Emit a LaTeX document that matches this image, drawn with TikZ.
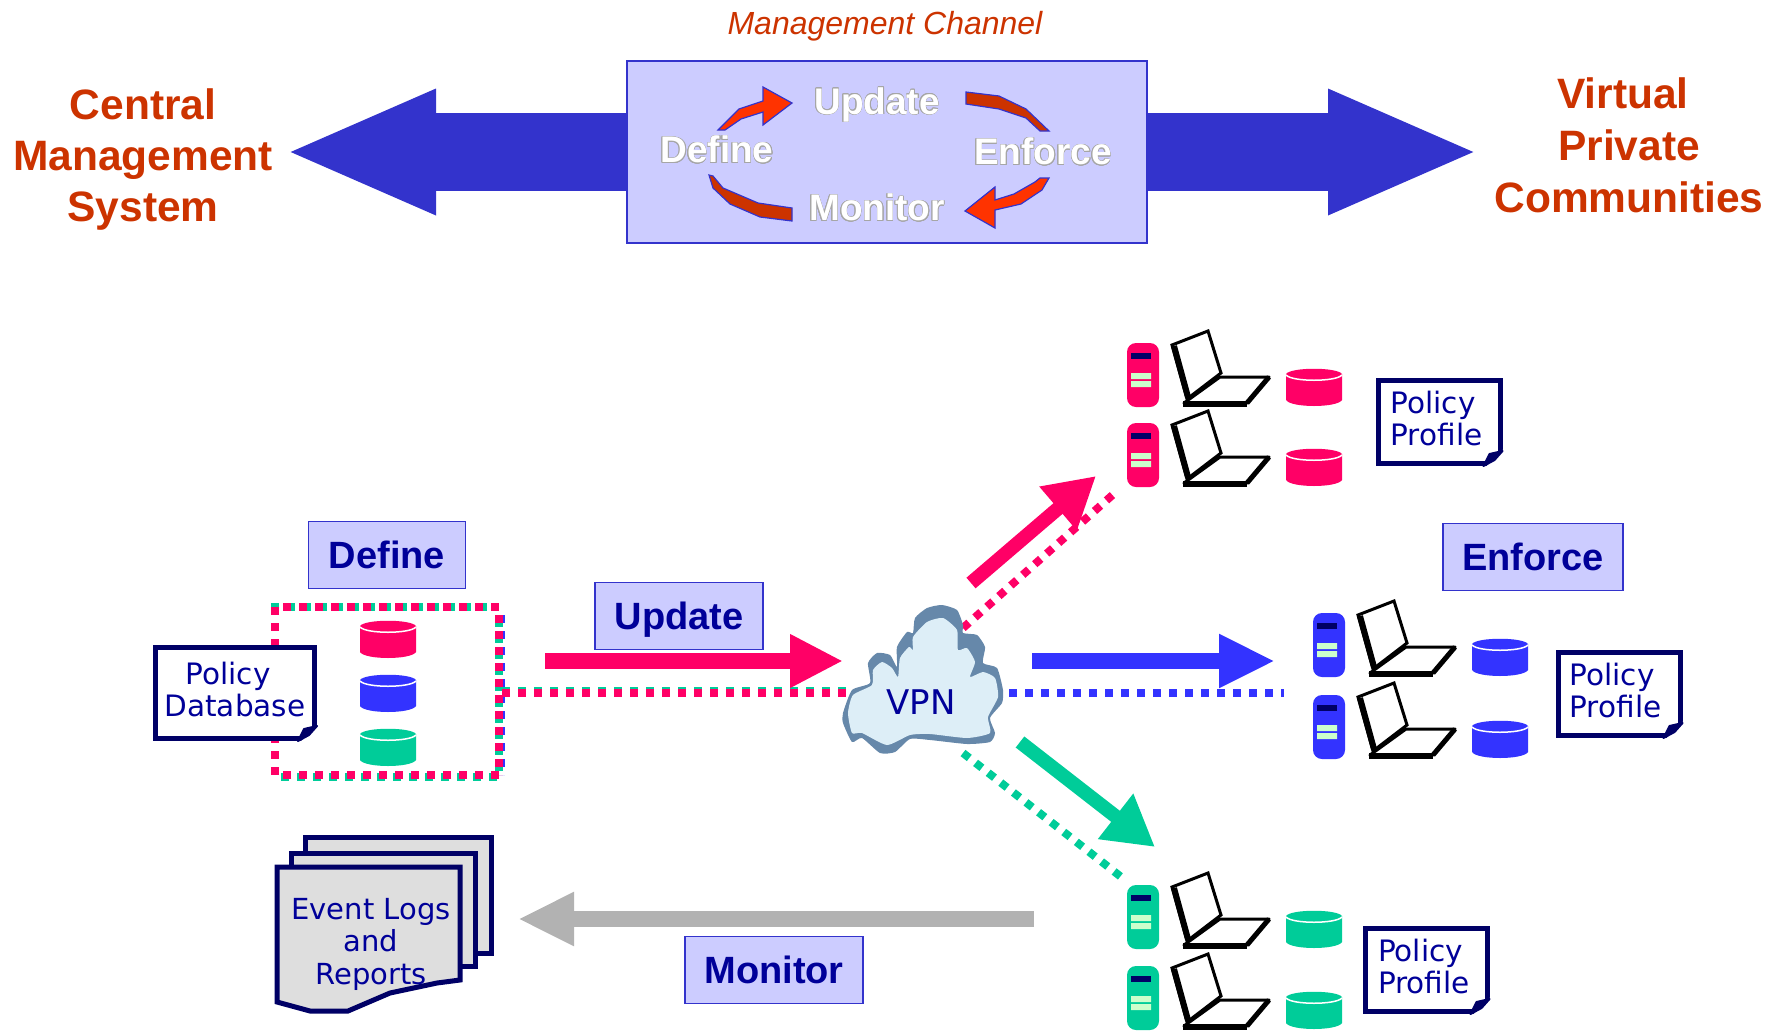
\documentclass[tikz,border=0pt]{standalone}
\usepackage{fontspec}
\usepackage[copies]{contour}
\setmainfont{Liberation Sans}
\newfontfamily\docfont{DejaVu Sans}
\usetikzlibrary{arrows.meta}
\contourlength{0.6pt}
\definecolor{vpnpink}{HTML}{FF0066}
\definecolor{vpnblue}{HTML}{3333FF}
\definecolor{vpngreen}{HTML}{00CC99}
\definecolor{chanblue}{HTML}{3333CC}
\definecolor{chanfill}{HTML}{CCCCFF}
\definecolor{navytext}{HTML}{000099}
\definecolor{docnavy}{HTML}{000066}
\definecolor{rust}{HTML}{CC3300}
\definecolor{flame}{HTML}{FF3300}
\tikzset{
  headline/.style={font=\bfseries\fontsize{42.5}{51}\selectfont, text=rust},
  cycleword/.style={font=\bfseries\fontsize{37}{40}\selectfont},
  labelbox/.style={draw=chanblue, fill=chanfill, line width=1.5pt, text=navytext, minimum height=67pt, text height=27.5pt, text depth=0pt, font=\bfseries\fontsize{38}{44}\selectfont},
  policydoc/.style={draw=docnavy, fill=white, line width=5pt, text=navytext, minimum width=122pt, minimum height=83pt, inner sep=0pt, text depth=7pt, font=\docfont\fontsize{29.5}{32}\selectfont},
  sheet/.style={draw=docnavy, fill=black!13, line width=5pt},
  dotline/.style={line width=8pt, dash pattern=on 8pt off 8pt},
  bigarrow/.style={chanblue, line width=78pt, -{Triangle[length=152pt,width=114pt]}},
  pics/cyl/.style={code={
    \fill[#1] (0,6) .. controls (5,-1) and (51,-1) .. (56,6) -- (56,32) .. controls (51,40) and (5,40) .. (0,32) -- cycle;
    \draw[white, line width=1.5pt] (0,7) .. controls (6,14) and (50,14) .. (56,7);
  }},
  pics/station/.style={code={
    \fill[#1, rounded corners=9pt] (0,0) rectangle (32,64);
    \fill[docnavy] (4,10) rectangle (24,16);
    \fill[green!20] (4,30) rectangle (24,36) (4,38) rectangle (24,44);
    \draw[fill=white, line width=3pt] (45,2) -- (81,-12) -- (94,30) -- (60,56) -- cycle;
    \draw[line width=6pt] (47,3) -- (61,54);
    \draw[fill=white, line width=3pt, line join=round] (93,34) -- (142,34) -- (120,60) -- (57,60) -- cycle;
    \draw[line width=6pt] (56,61) -- (120,61);
    \draw[line width=5pt] (120,60) -- (142,34);
    \pic at (159,25) {cyl=#1};
  }}
}
\begin{document}
\begin{tikzpicture}[x=1pt, y=-1pt, every node/.style={align=center}]
\useasboundingbox (0,0) rectangle (1781,1031);

\node (channel) [draw=chanblue, fill=chanfill, line width=1.5pt, minimum width=520pt, minimum height=182pt] at (887,152) {};
\coordinate (lefttip) at (284,152);
\coordinate (righttip) at (1480,152);
\draw[bigarrow] (channel.west) -- (lefttip);
\draw[bigarrow] (channel.east) -- (righttip);

\node (title) [font=\itshape\fontsize{32}{36}\selectfont, text=rust] at (885,26) {Management Channel};
\node (central) [headline] at (143,160) {Central\\Management\\System};
\node (virtual) [headline] at (1629,145) {Virtual\hspace*{12pt}\\[1pt]Private\hspace*{12pt}\\[1pt]Communities};

\filldraw[draw=chanblue, fill=flame, line width=1.2pt] (718,130) -- (739,109) -- (763,101) -- (763,87) -- (792,103) -- (763,125) -- (763,112) -- (741,119) -- (725,130) -- cycle;
\filldraw[draw=chanblue, fill=rust, line width=1.2pt] (966,92) -- (999,96) -- (1026,109) -- (1049,131) -- (1040,131) -- (1026,118) -- (999,109) -- (966,104) -- cycle;
\filldraw[draw=chanblue, fill=flame, line width=1.2pt] (1049,178) -- (1042,190) -- (1021,204) -- (995,210) -- (995,228) -- (965,211) -- (995,187) -- (995,200) -- (1014,194) -- (1035,182) -- (1040,178) -- cycle;
\filldraw[draw=chanblue, fill=rust, line width=1.2pt] (709,175) -- (713,188) -- (730,204) -- (760,217) -- (792,221) -- (792,208) -- (758,203) -- (723,188) -- (713,176) -- cycle;

\node (cupdate) [cycleword] at (877,105) {\contour{black!35}{\color{white}Update}};
\node (cdefine) [cycleword] at (717,150) {\contour{black!35}{\color{white}Define}};
\node (cenforce) [cycleword] at (1043,152) {\contour{black!35}{\color{white}Enforce}};
\node (cmonitor) [cycleword] at (877,208) {\contour{black!35}{\color{white}Monitor}};

\coordinate (hubwest) at (846,693);
\coordinate (hubeast) at (1009,693);
\coordinate (hubnorth) at (963,628);
\coordinate (hubsouth) at (963,753);
\coordinate (dbout) at (502,693);
\coordinate (pinkend) at (1117,491);
\coordinate (blueend) at (1284,693);
\coordinate (greenend) at (1125,880);

\draw[vpnblue, dotline] (501,615) -- (501,775);
\draw[vpngreen, dotline] (271,607) -- (499,607) (499,619) -- (499,777) (281,777) -- (499,777);
\draw[vpnpink, dotline] (275,607) -- (275,775) (283,607) -- (499,607) (499,615) -- (499,775) (283,775) -- (499,775);
\draw[vpngreen, dotline] ([yshift=2pt]dbout) -- ([yshift=2pt]hubwest);
\draw[vpnpink, dotline] (dbout) -- (hubwest);
\draw[vpnpink, dotline] (hubnorth) -- (pinkend);
\draw[vpnblue, dotline] (hubeast) -- (blueend);
\draw[vpngreen, dotline] (hubsouth) -- (greenend);

\filldraw[draw=none, fill={rgb,255:red,102;green,136;blue,170}] plot[smooth cycle, tension=0.35] coordinates {(843,713) (852,690) (870,683) (868,663) (877,653) (890,655) (897,667) (897,647) (907,632) (913,633) (915,618) (927,608) (942,605) (957,610) (963,625) (963,633) (977,635) (985,647) (983,663) (997,668) (1003,690) (1002,703) (990,718) (995,733) (990,742) (967,744) (930,740) (910,739) (895,752) (880,753) (862,738) (852,742) (843,723)};
\filldraw[draw=none, fill={rgb,255:red,221;green,238;blue,247}] plot[smooth cycle, tension=0.35] coordinates {(848,713) (853,695) (872,685) (873,670) (882,662) (892,668) (898,677) (900,658) (909,647) (913,650) (913,637) (927,622) (943,618) (957,630) (958,650) (967,648) (975,662) (970,677) (983,672) (995,678) (998,697) (988,717) (990,733) (967,738) (930,734) (910,735) (887,745) (862,733) (852,733)};
\node (vpn) [text=navytext, font=\docfont\fontsize{34}{38}\selectfont] at (921,702) {VPN};

\coordinate (updatestart) at (545,661);
\coordinate (updatetip) at (843,661);
\coordinate (pinkstart) at (971,583);
\coordinate (pinktip) at (1096,476);
\coordinate (bluestart) at (1032,661);
\coordinate (bluetip) at (1275,661);
\coordinate (greenstart) at (1020,742);
\coordinate (greentip) at (1155,847);
\coordinate (monitorstart) at (1034,919);
\coordinate (monitortip) at (518,919);
\draw[vpnpink, line width=16pt, -{Triangle[length=53pt,width=50pt]}] (updatestart) -- (updatetip);
\draw[vpnpink, line width=14pt, -{Triangle[length=50pt,width=54pt]}] (pinkstart) -- (pinktip);
\draw[vpnblue, line width=16pt, -{Triangle[length=56pt,width=50pt]}] (bluestart) -- (bluetip);
\draw[vpngreen, line width=14pt, -{Triangle[length=50pt,width=54pt]}] (greenstart) -- (greentip);
\draw[black!30, line width=16pt, -{Triangle[length=56pt,width=50pt]}] (monitorstart) -- (monitortip);

\node (define) [labelbox, minimum width=157pt] at (387,555) {Define};
\node (update) [labelbox, minimum width=168pt] at (679,616) {Update};
\node (enforce) [labelbox, minimum width=180pt] at (1533,557) {Enforce};
\node (monitor) [labelbox, minimum width=178pt] at (774,970) {Monitor};

\pic at (360,620) {cyl=vpnpink};
\pic at (360,674) {cyl=vpnblue};
\pic at (360,728) {cyl=vpngreen};

\pic at (1127,343) {station=vpnpink};
\pic at (1127,423) {station=vpnpink};
\pic at (1313,613) {station=vpnblue};
\pic at (1313,695) {station=vpnblue};
\pic at (1127,885) {station=vpngreen};
\pic at (1127,966) {station=vpngreen};

\node (database) [policydoc, minimum width=159pt, minimum height=91pt] at (235,693) {Policy\hspace*{14pt}\\Database};
\node (profilepink) [policydoc, align=left] at (1439,422) {Policy\\Profile\hspace*{5pt}};
\node (profileblue) [policydoc, align=left] at (1619,694) {Policy\\Profile\hspace*{7pt}};
\node (profilegreen) [policydoc, align=left] at (1426,970) {Policy\\Profile\hspace*{4pt}};
\foreach \doc in {database, profilepink, profileblue, profilegreen} {
  \fill[white] ([shift={(-19,3)}]\doc.south east) -- ([shift={(3,3)}]\doc.south east) -- ([shift={(3,-19)}]\doc.south east) -- cycle;
  \filldraw[docnavy, line width=2pt, line join=round] ([shift={(-19,0)}]\doc.south east) -- ([shift={(-13,-12)}]\doc.south east) -- ([shift={(0,-15)}]\doc.south east) -- ([shift={(-8,-6)}]\doc.south east) -- cycle;
}

\draw[sheet] (305,837) -- (491,837) -- (491,953) -- (305,953) -- cycle;
\draw[sheet] (291,853) -- (475,853) -- (475,966) -- (291,966) -- cycle;
\draw[sheet] (277,867) -- (460,867) -- (460,980) -- (437,983) -- (390,993) -- (348,1011) -- (310,1011) -- (277,1002) -- cycle;
\node (logs) [text=navytext, font=\docfont\fontsize{29}{32.5}\selectfont] at (371,944) {Event Logs\\and\\Reports};
\end{tikzpicture}
\end{document}
